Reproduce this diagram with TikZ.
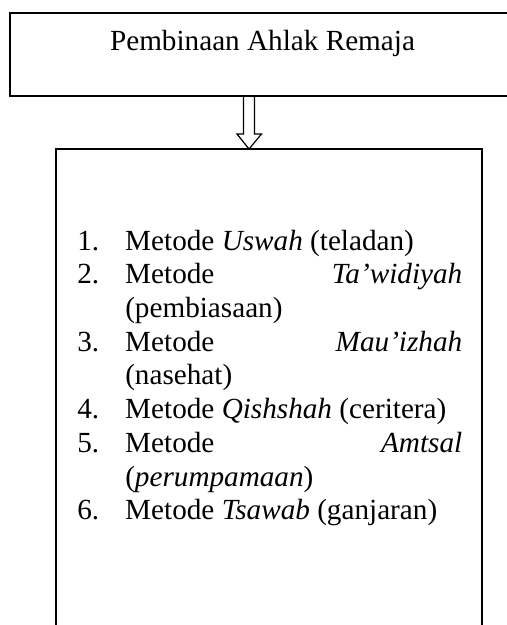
\documentclass[tikz,border=0pt]{standalone}
\usepackage{fontspec}
\setmainfont{Liberation Serif}
\usetikzlibrary{calc}

\tikzset{
  boxline/.style={line width=1.5pt},
  hollowarrow/.style={line width=0.9pt, line join=miter},
  bodytext/.style={inner sep=0pt, font=\fontsize{21.9}{25.31}\selectfont}
}

\begin{document}
\begin{tikzpicture}[x=0.75pt, y=-0.75pt]
    \useasboundingbox (0,0) rectangle (507,625);

    % Top box (runs past the right edge)
    \draw[boxline] (512,12.5) -- (9.5,12.5) -- (9.5,96) -- (512,96);
    \node[bodytext, anchor=base] (title) at (262.5,50) {Pembinaan Ahlak Remaja};

    % Bottom box (runs past the bottom edge)
    \draw[boxline] (56,630) -- (56,149) -- (482,149) -- (482,630);

    % Hollow arrow
    \coordinate (from) at (249,96);
    \coordinate (to) at (249,149);
    \draw[hollowarrow] ($(from)+(-5.5,0)$) -- ($(to)+(-5.5,-15)$) -- ($(to)+(-12,-15)$)
        -- (to) -- ($(to)+(12.5,-15)$) -- ($(to)+(5.5,-15)$) -- ($(from)+(5.5,0)$);

    % List of methods
    \node[bodytext, anchor=base west] (list) at (77,250) {%
      \begin{tabular}[t]{@{}p{36pt}@{}p{252.75pt}@{}}
        1. & Metode \textit{Uswah} (teladan)\\
        2. & Metode \hfill \textit{Ta’widiyah}\\
           & (pembiasaan)\\
        3. & Metode \hfill \textit{Mau’izhah}\\
           & (nasehat)\\
        4. & Metode \textit{Qishshah} (ceritera)\\
        5. & Metode \hfill \textit{Amtsal}\\
           & (\textit{perumpamaan})\\
        6. & Metode \textit{Tsawab} (ganjaran)\\
      \end{tabular}};
\end{tikzpicture}
\end{document}
